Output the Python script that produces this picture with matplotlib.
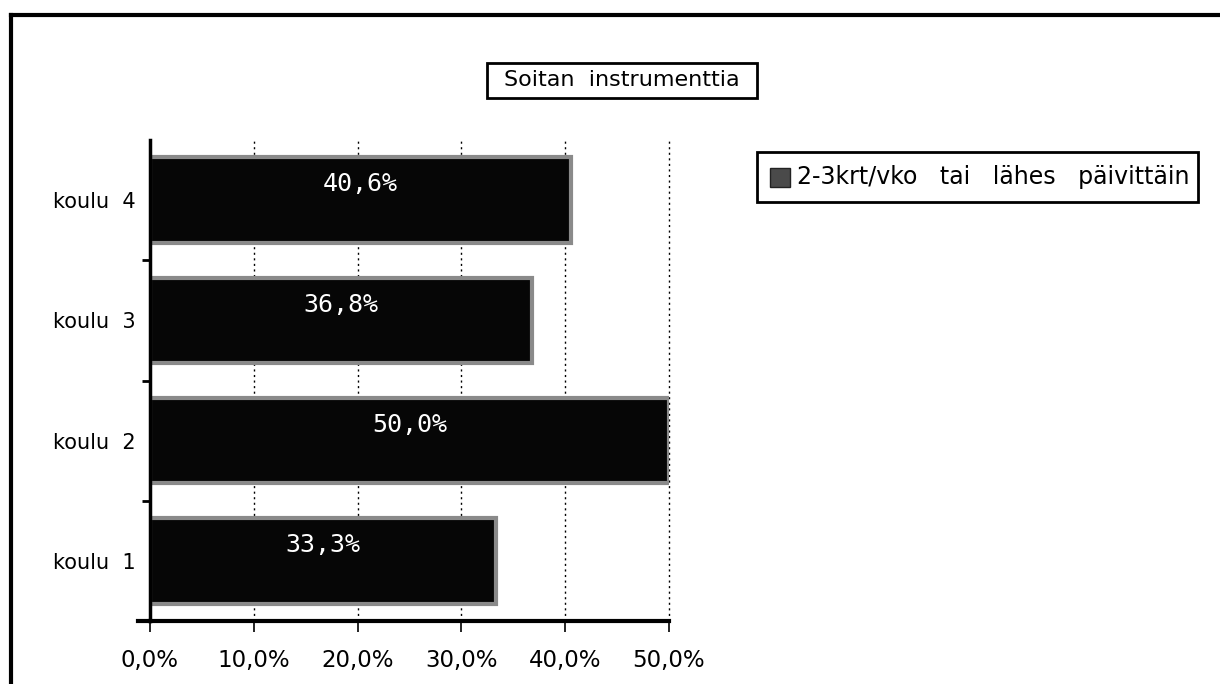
import numpy as np
import matplotlib.pyplot as plt
from matplotlib.lines import Line2D
from matplotlib.patches import Rectangle

schools = ['koulu 1', 'koulu 2', 'koulu 3', 'koulu 4']
values = [33.3, 50.0, 36.8, 40.6]
xticks = [0, 10, 20, 30, 40, 50]
xlabels = ['0,0%', '10,0%', '20,0%', '30,0%', '40,0%', '50,0%']
title = 'Soitan  instrumenttia'
series_name = '2-3krt/vko   tai   lähes   päivittäin'

W, H = 1220, 684
fig = plt.figure(figsize=(W / 100, H / 100), dpi=100)

# outer frame (top and left only)
fig.add_artist(Line2D([11 / W, 1.0], [1 - 15 / H, 1 - 15 / H], color='black', lw=3))
fig.add_artist(Line2D([11 / W, 11 / W], [0, 1 - 15 / H], color='black', lw=3))

ax = fig.add_axes([150 / W, 1 - 621 / H, 519 / W, 481 / H])
y = np.arange(len(schools))
bars = ax.barh(y, values, height=0.71, color='#060606', edgecolor='#8a8a8a', linewidth=3)

for yi, v in zip(y, values):
    ax.text(v / 2, yi + 0.13, f'{v:.1f}%'.replace('.', ','), color='white',
            ha='center', va='center', fontsize=18, family='DejaVu Sans Mono')

ax.set_xlim(0, 50)
ax.set_ylim(-0.5, len(schools) - 0.5)
ax.set_xticks(xticks)
ax.set_xticklabels(xlabels, fontsize=16.5)
ax.set_yticks(y)
ax.set_yticklabels([s.replace(' ', '  ') for s in schools], fontsize=15)
ax.tick_params(axis='y', length=0, pad=10)
ax.set_yticks(np.arange(0.5, len(schools) - 0.5, 1), minor=True)
ax.tick_params(axis='y', which='minor', length=6, width=2, direction='out')
ax.tick_params(axis='x', length=8, width=1.2, direction='out', pad=12)

ax.grid(axis='x', linestyle=(0, (1.5, 2.5)), color='black', lw=1)
for g in ax.get_xgridlines():
    g.set_clip_on(False)
ax.set_axisbelow(True)
for s in ['top', 'right']:
    ax.spines[s].set_visible(False)
ax.spines['left'].set_linewidth(2.5)
ax.spines['bottom'].set_linewidth(3)
# short stub of the x axis line to the left of zero
fig.add_artist(Line2D([138 / W, 150 / W], [1 - 621 / H, 1 - 621 / H], color='black', lw=3))

# title box
fig.add_artist(Rectangle((487 / W, 1 - 98 / H), 270 / W, 35 / H, transform=fig.transFigure,
                         facecolor='white', edgecolor='black', lw=2))
fig.text(622 / W, 1 - 80 / H, title, ha='center', va='center', fontsize=16)

# legend box
fig.add_artist(Rectangle((757 / W, 1 - 202 / H), 441 / W, 50 / H, transform=fig.transFigure,
                         facecolor='white', edgecolor='black', lw=2))
fig.add_artist(Rectangle((770 / W, 1 - 187 / H), 20 / W, 19 / H, transform=fig.transFigure,
                         facecolor='#4a4a4a', edgecolor='#222222', lw=1))
fig.text(797 / W, 1 - 177 / H, series_name, ha='left', va='center', fontsize=17)

fig.savefig('out.png', dpi=100)
